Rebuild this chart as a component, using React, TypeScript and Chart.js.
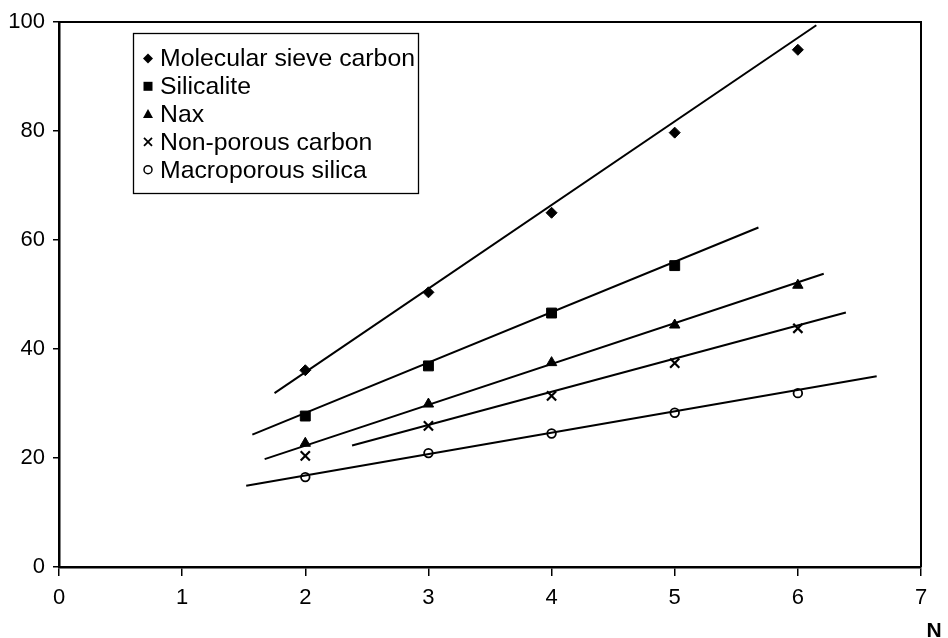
import React, { useEffect, useRef } from "react";
import { Chart, registerables } from "chart.js";

Chart.register(...registerables);

// ---------- data ----------
const seriesLabels = [
  "Molecular sieve carbon",
  "Silicalite",
  "Nax",
  "Non-porous carbon",
  "Macroporous silica",
];
const nValues = [2, 3, 4, 5, 6];
const silicaliteN = [2, 3, 4, 5];
const molecularSieveCarbon = [36.1, 50.4, 65.0, 79.7, 94.9];
const silicalite = [27.7, 36.9, 46.6, 55.3];
const nax = [22.7, 29.9, 37.5, 44.4, 51.7];
const nonPorousCarbon = [20.4, 25.9, 31.4, 37.4, 43.8];
const macroporousSilica = [16.5, 20.9, 24.5, 28.3, 31.9];

// fitted straight lines (start / end)
const mscFitN = [1.75, 6.15];
const mscFitY = [31.9, 99.4];
const silFitN = [1.57, 5.68];
const silFitY = [24.3, 62.3];
const naxFitN = [1.67, 6.21];
const naxFitY = [19.8, 53.8];
const npcFitN = [2.38, 6.39];
const npcFitY = [22.3, 46.7];
const mpsFitN = [1.52, 6.64];
const mpsFitY = [14.9, 35.0];

const xMin = 0;
const xMax = 7;
const yMin = 0;
const yMax = 100;
const yStep = 20;
const xAxisTitle = "N";

const FONT = '"Liberation Sans", Arial, Helvetica, sans-serif';

const pts = (xs: number[], ys: number[]) => xs.map((x, i) => ({ x, y: ys[i] }));

function drawSymbol(ctx: CanvasRenderingContext2D, kind: number, x: number, y: number) {
  ctx.save();
  ctx.fillStyle = "#000";
  ctx.strokeStyle = "#000";
  ctx.beginPath();
  if (kind === 0) {
    const r = 5;
    ctx.moveTo(x, y - r);
    ctx.lineTo(x + r, y);
    ctx.lineTo(x, y + r);
    ctx.lineTo(x - r, y);
    ctx.closePath();
    ctx.fill();
  } else if (kind === 1) {
    ctx.rect(x - 4.5, y - 4.5, 9, 9);
    ctx.fill();
  } else if (kind === 2) {
    ctx.moveTo(x, y - 5);
    ctx.lineTo(x + 5, y + 4);
    ctx.lineTo(x - 5, y + 4);
    ctx.closePath();
    ctx.fill();
  } else if (kind === 3) {
    ctx.lineWidth = 1.8;
    ctx.moveTo(x - 4, y - 4);
    ctx.lineTo(x + 4, y + 4);
    ctx.moveTo(x + 4, y - 4);
    ctx.lineTo(x - 4, y + 4);
    ctx.stroke();
  } else {
    ctx.lineWidth = 1.5;
    ctx.arc(x, y, 4, 0, Math.PI * 2);
    ctx.stroke();
  }
  ctx.restore();
}

const framePlugin = {
  id: "frameAndLegend",
  afterDraw(chart: any) {
    const { ctx, chartArea: a } = chart;
    ctx.save();
    // top/right frame
    ctx.strokeStyle = "#000";
    ctx.lineWidth = 2;
    ctx.beginPath();
    ctx.moveTo(a.left, a.top);
    ctx.lineTo(a.right, a.top);
    ctx.lineTo(a.right, a.bottom);
    ctx.stroke();

    // legend box
    ctx.lineWidth = 1.3;
    ctx.strokeRect(133.5, 33.5, 285, 160);
    ctx.fillStyle = "#000";
    ctx.font = `24.8px ${FONT}`;
    ctx.textBaseline = "middle";
    ctx.textAlign = "left";
    seriesLabels.forEach((label, i) => {
      const y = 58.5 + i * 27.8;
      drawSymbol(ctx, i, 148, y);
      ctx.fillText(label, 160, y + 1);
    });

    // axis title N
    ctx.font = `bold 21px ${FONT}`;
    ctx.textAlign = "center";
    ctx.textBaseline = "alphabetic";
    ctx.fillText(xAxisTitle, 934, 637);
    ctx.restore();
  },
};

export default function App() {
  const canvasRef = useRef<HTMLCanvasElement | null>(null);

  useEffect(() => {
    document.body.style.margin = "0";
    const canvas = canvasRef.current;
    if (!canvas) return;

    const scatterBase = {
      showLine: false,
      borderColor: "#000",
      backgroundColor: "#000",
    };
    const fitBase = {
      showLine: true,
      pointRadius: 0,
      borderColor: "#000",
      borderWidth: 2,
      fill: false,
    };

    const chart = new Chart(canvas, {
      type: "scatter",
      data: {
        datasets: [
          { ...fitBase, label: "fit1", data: pts(mscFitN, mscFitY) },
          { ...fitBase, label: "fit2", data: pts(silFitN, silFitY) },
          { ...fitBase, label: "fit3", data: pts(naxFitN, naxFitY) },
          { ...fitBase, label: "fit4", data: pts(npcFitN, npcFitY) },
          { ...fitBase, label: "fit5", data: pts(mpsFitN, mpsFitY) },
          {
            ...scatterBase,
            label: seriesLabels[0],
            data: pts(nValues, molecularSieveCarbon),
            pointStyle: "rectRot",
            pointRadius: 5.5,
          },
          {
            ...scatterBase,
            label: seriesLabels[1],
            data: pts(silicaliteN, silicalite),
            pointStyle: "rect",
            pointRadius: 7,
          },
          {
            ...scatterBase,
            label: seriesLabels[2],
            data: pts(nValues, nax),
            pointStyle: "triangle",
            pointRadius: 6,
          },
          {
            ...scatterBase,
            label: seriesLabels[3],
            data: pts(nValues, nonPorousCarbon),
            pointStyle: "crossRot",
            pointRadius: 6.5,
            borderWidth: 2.2,
          },
          {
            label: seriesLabels[4],
            data: pts(nValues, macroporousSilica),
            pointStyle: "circle",
            pointRadius: 4.3,
            borderWidth: 1.8,
            borderColor: "#000",
            backgroundColor: "#fff",
            showLine: false,
          },
        ] as any,
      },
      options: {
        animation: false,
        responsive: false,
        maintainAspectRatio: false,
        layout: { padding: { left: 0, top: 22, right: 27, bottom: 0 } },
        plugins: {
          legend: { display: false },
          tooltip: { enabled: false },
          title: { display: false },
        },
        scales: {
          x: {
            type: "linear",
            min: xMin,
            max: xMax,
            afterFit: (s: any) => {
              s.height = 71;
            },
            ticks: {
              stepSize: 1,
              color: "#000",
              padding: 9,
              font: { family: FONT, size: 22 },
            },
            grid: {
              drawOnChartArea: false,
              drawTicks: true,
              tickLength: 9,
              color: "#000",
              lineWidth: 1.5,
            },
            border: { display: true, color: "#000", width: 2.5 },
          },
          y: {
            type: "linear",
            min: yMin,
            max: yMax,
            afterFit: (s: any) => {
              s.width = 59;
            },
            ticks: {
              stepSize: yStep,
              color: "#000",
              padding: 8,
              font: { family: FONT, size: 22 },
            },
            grid: {
              drawOnChartArea: false,
              drawTicks: true,
              tickLength: 6,
              color: "#000",
              lineWidth: 1.5,
            },
            border: { display: true, color: "#000", width: 2.5 },
          },
        },
      } as any,
      plugins: [framePlugin],
    });

    return () => chart.destroy();
  }, []);

  return (
    <div style={{ position: "absolute", left: 0, top: 0, width: 948, height: 638, background: "#fff" }}>
      <canvas ref={canvasRef} width={948} height={638} style={{ display: "block" }} />
    </div>
  );
}
